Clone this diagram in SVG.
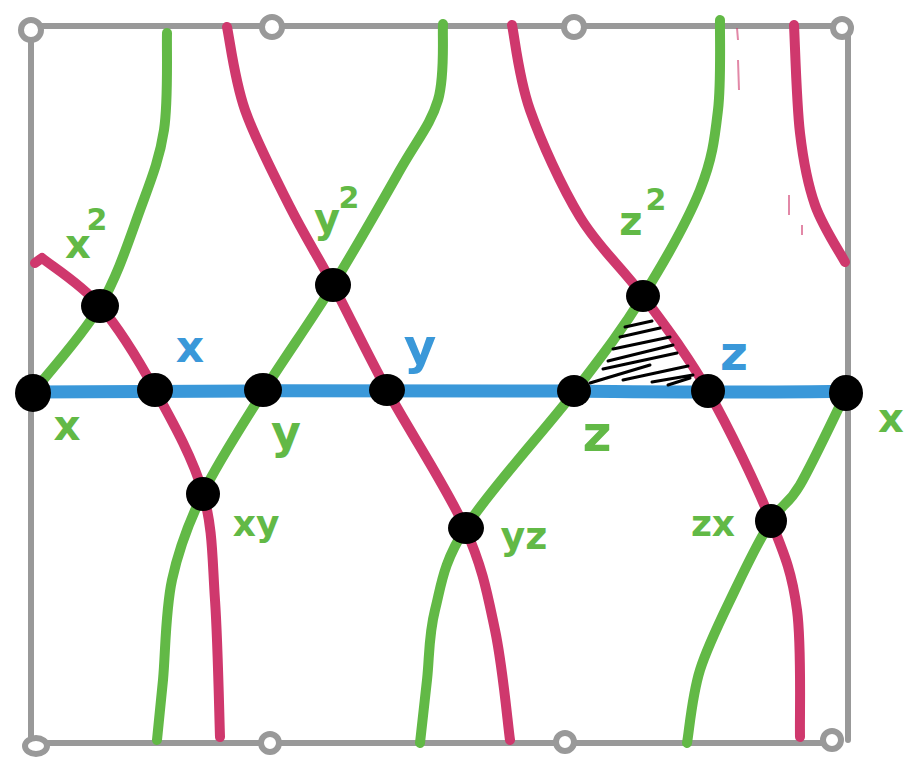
<svg xmlns="http://www.w3.org/2000/svg" width="917" height="760" viewBox="0 0 917 760">
<style>
.frame{fill:none;stroke:#999999;stroke-width:6;stroke-linecap:round}
.loop{fill:#ffffff;stroke:#999999;stroke-width:6}
.g{fill:none;stroke:#62b946;stroke-width:10;stroke-linecap:round;stroke-linejoin:round}
.r{fill:none;stroke:#cf386d;stroke-width:10;stroke-linecap:round;stroke-linejoin:round}
.b{fill:none;stroke:#3a98d9;stroke-width:13;stroke-linecap:round;stroke-linejoin:round}
.h{fill:none;stroke:#000000;stroke-width:3;stroke-linecap:round}
.dot{fill:#000000}
.lg{fill:#62b946;font-family:"DejaVu Sans",sans-serif;font-weight:bold;text-anchor:middle}
.lb{fill:#3a98d9;font-family:"DejaVu Sans",sans-serif;font-weight:bold;text-anchor:middle}
</style>
<rect width="917" height="760" fill="#ffffff"/>
<g id="frame">
<path class="frame" d="M31,26 H848 V740 M31,26 V743 H832"/>
<circle class="loop" cx="31" cy="30" r="10"/>
<circle class="loop" cx="272" cy="27" r="10"/>
<circle class="loop" cx="574" cy="27" r="10"/>
<circle class="loop" cx="842" cy="28" r="9"/>
<ellipse class="loop" cx="36" cy="746" rx="11" ry="8"/>
<circle class="loop" cx="270" cy="743" r="9"/>
<circle class="loop" cx="565" cy="742" r="9"/>
<circle class="loop" cx="832" cy="740" r="9"/>
</g>
<g id="connectors">
<path class="b" d="M33,392 C200,391 400,390 560,391 C700,392 780,393 846,391"/>
<path class="g" d="M167,33 C166.5,49 168.5,100.5 164,130 C159.5,159.5 150.7,180.7 140,210 C129.3,239.3 117.8,275.7 100,306 C82.2,336.3 44.2,377.7 33,392"/>
<path class="g" d="M443,24 C442.2,36.7 445.2,75.7 438,100 C430.8,124.3 417.5,139.2 400,170 C382.5,200.8 355.8,248 333,285 C310.2,322 284.7,357.3 263,392 C241.3,426.7 218.2,461.7 203,493 C187.8,524.3 178.7,548.8 172,580 C165.3,611.2 165.5,653.3 163,680 C160.5,706.7 158,730 157,740"/>
<path class="g" d="M720,20 C719.7,35 721.3,81.7 718,110 C714.7,138.3 712.5,159 700,190 C687.5,221 663.8,262.5 643,296 C622.2,329.5 604.5,352.5 575,391 C545.5,429.5 489.3,490.5 466,527 C442.7,563.5 441.5,584.5 435,610 C428.5,635.5 429.5,657.8 427,680 C424.5,702.2 421.2,732.5 420,743"/>
<path class="g" d="M846,393 C838.3,408.3 812.5,463.7 800,485 C787.5,506.3 781.8,503.5 771,521 C760.2,538.5 746.8,565.2 735,590 C723.2,614.8 708,644.5 700,670 C692,695.5 689.2,730.8 687,743"/>
<path class="r" d="M35,263 L42,258 C51.7,266 81.2,284 100,306 C118.8,328 137.8,358.8 155,390 C172.2,421.2 193,458 203,493 C213,528 212.2,559.3 215,600 C217.8,640.7 219.2,714.2 220,737"/>
<path class="r" d="M227,27 C230,40.8 234.5,80 245,110 C255.5,140 275.3,177.8 290,207 C304.7,236.2 316.8,254.5 333,285 C349.2,315.5 365,349.5 387,390 C409,430.5 447,488 465,528 C483,568 487.5,594.7 495,630 C502.5,665.3 507.5,721.7 510,740"/>
<path class="r" d="M512,25 C515,39.2 518.7,78 530,110 C541.3,142 561.2,186 580,217 C598.8,248 621.7,267 643,296 C664.3,325 686.7,353.5 708,391 C729.3,428.5 756.2,484.5 771,521 C785.8,557.5 792.2,574 797,610 C801.8,646 799.5,715.8 800,737"/>
<path class="r" d="M794,25 C795,43 796.5,103 800,133 C803.5,163 807.5,183.5 815,205 C822.5,226.5 840,252.5 845,262"/>
<path d="M737,28 L738,40 M738,60 L739,90 M789,195 L789,215 M802,225 L802,235" stroke="#cf386d" stroke-width="2" fill="none" opacity="0.6"/>
</g>
<g id="hatch">
<path class="h" d="M625,327 L652,321 M620,337 L660,328 M613,349 L670,337 M608,361 L673,345 M603,369 L677,353 M623,380 L688,366 M652,382 L693,375 M590,383 L650,365 M668,385 L690,378"/>
</g>
<g id="n1"><ellipse class="dot" cx="33" cy="393" rx="18" ry="19"/></g>
<g id="n2"><ellipse class="dot" cx="100" cy="306" rx="19" ry="17"/></g>
<g id="n3"><ellipse class="dot" cx="155" cy="390" rx="18" ry="17"/></g>
<g id="n4"><ellipse class="dot" cx="263" cy="390" rx="19" ry="17"/></g>
<g id="n5"><ellipse class="dot" cx="333" cy="285" rx="18" ry="17"/></g>
<g id="n6"><ellipse class="dot" cx="387" cy="390" rx="18" ry="16"/></g>
<g id="n7"><ellipse class="dot" cx="203" cy="494" rx="17" ry="17"/></g>
<g id="n8"><ellipse class="dot" cx="466" cy="528" rx="18" ry="16"/></g>
<g id="n9"><ellipse class="dot" cx="574" cy="391" rx="17" ry="16"/></g>
<g id="n10"><ellipse class="dot" cx="643" cy="296" rx="17" ry="16"/></g>
<g id="n11"><ellipse class="dot" cx="708" cy="391" rx="17" ry="17"/></g>
<g id="n12"><ellipse class="dot" cx="771" cy="521" rx="16" ry="17"/></g>
<g id="n13"><ellipse class="dot" cx="846" cy="393" rx="17" ry="18"/></g>
<g id="labels">
<text class="lg" x="78" y="258" font-size="40">x</text>
<text class="lg" x="97" y="230" font-size="30">2</text>
<text class="lg" x="327" y="232" font-size="40">y</text>
<text class="lg" x="349" y="208" font-size="30">2</text>
<text class="lg" x="631" y="235" font-size="40">z</text>
<text class="lg" x="656" y="210" font-size="30">2</text>
<text class="lg" x="67" y="440" font-size="42">x</text>
<text class="lg" x="286" y="448" font-size="46">y</text>
<text class="lg" x="256" y="536" font-size="36">xy</text>
<text class="lg" x="524" y="549" font-size="38">yz</text>
<text class="lg" x="597" y="451" font-size="50">z</text>
<text class="lg" x="713" y="536" font-size="36">zx</text>
<text class="lg" x="891" y="432" font-size="40">x</text>
<text class="lb" x="190" y="362" font-size="44">x</text>
<text class="lb" x="420" y="364" font-size="50">y</text>
<text class="lb" x="734" y="370" font-size="48">z</text>
</g>
</svg>
